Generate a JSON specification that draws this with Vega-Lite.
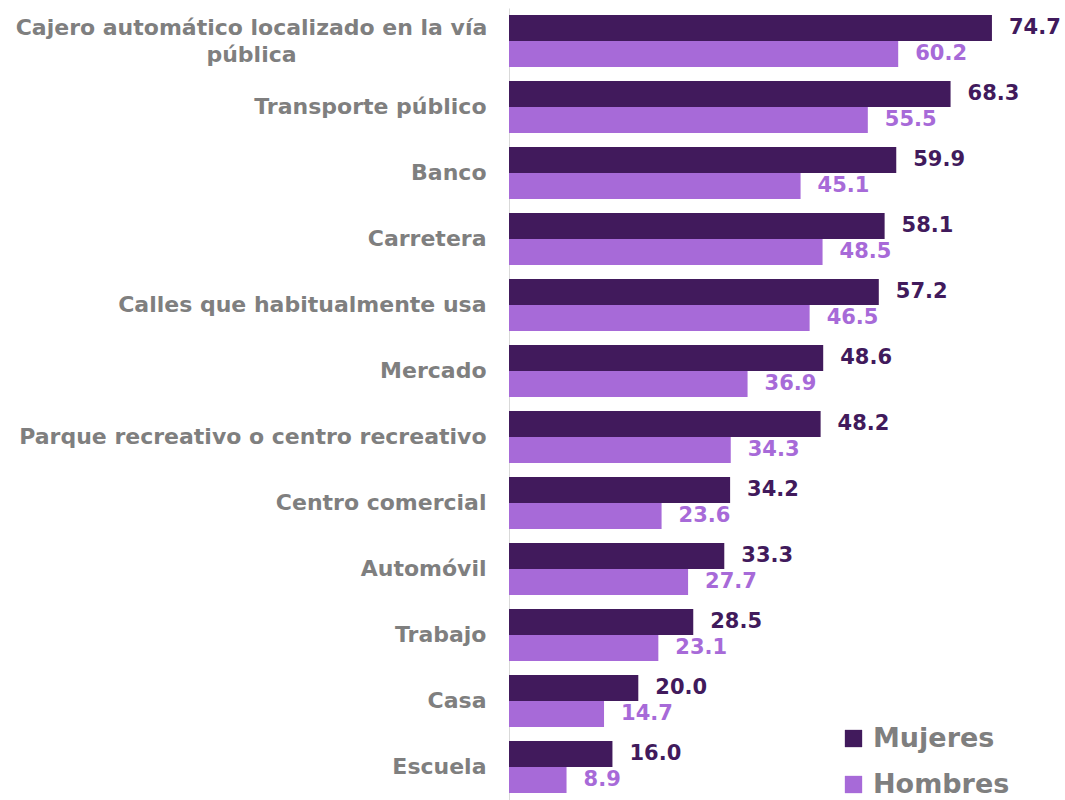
{
  "$schema": "https://vega.github.io/schema/vega-lite/v6.json",
  "width": 556,
  "height": 792,
  "autosize": {"type": "none"},
  "padding": {"left": 509, "top": 8, "right": 0, "bottom": 0},
  "background": "white",
  "config": {"view": {"stroke": null}, "font": "DejaVu Sans"},
  "data": {
    "values": [
      {"lugar": "Cajero automático localizado en la vía pública", "sexo": "Mujeres", "valor": 74.7},
      {"lugar": "Cajero automático localizado en la vía pública", "sexo": "Hombres", "valor": 60.2},
      {"lugar": "Transporte público", "sexo": "Mujeres", "valor": 68.3},
      {"lugar": "Transporte público", "sexo": "Hombres", "valor": 55.5},
      {"lugar": "Banco", "sexo": "Mujeres", "valor": 59.9},
      {"lugar": "Banco", "sexo": "Hombres", "valor": 45.1},
      {"lugar": "Carretera", "sexo": "Mujeres", "valor": 58.1},
      {"lugar": "Carretera", "sexo": "Hombres", "valor": 48.5},
      {"lugar": "Calles que habitualmente usa", "sexo": "Mujeres", "valor": 57.2},
      {"lugar": "Calles que habitualmente usa", "sexo": "Hombres", "valor": 46.5},
      {"lugar": "Mercado", "sexo": "Mujeres", "valor": 48.6},
      {"lugar": "Mercado", "sexo": "Hombres", "valor": 36.9},
      {"lugar": "Parque recreativo o centro recreativo", "sexo": "Mujeres", "valor": 48.2},
      {"lugar": "Parque recreativo o centro recreativo", "sexo": "Hombres", "valor": 34.3},
      {"lugar": "Centro comercial", "sexo": "Mujeres", "valor": 34.2},
      {"lugar": "Centro comercial", "sexo": "Hombres", "valor": 23.6},
      {"lugar": "Automóvil", "sexo": "Mujeres", "valor": 33.3},
      {"lugar": "Automóvil", "sexo": "Hombres", "valor": 27.7},
      {"lugar": "Trabajo", "sexo": "Mujeres", "valor": 28.5},
      {"lugar": "Trabajo", "sexo": "Hombres", "valor": 23.1},
      {"lugar": "Casa", "sexo": "Mujeres", "valor": 20.0},
      {"lugar": "Casa", "sexo": "Hombres", "valor": 14.7},
      {"lugar": "Escuela", "sexo": "Mujeres", "valor": 16.0},
      {"lugar": "Escuela", "sexo": "Hombres", "valor": 8.9}
    ]
  },
  "encoding": {
    "y": {
      "field": "lugar",
      "type": "nominal",
      "sort": null,
      "scale": {"paddingInner": 0.21, "paddingOuter": 0.105},
      "axis": {
        "title": null,
        "domain": true,
        "domainColor": "#d9d9d9",
        "domainWidth": 1,
        "ticks": false,
        "labelFontSize": 22,
        "labelFontWeight": "bold",
        "labelColor": "#7f7f7f",
        "labelLimit": 0,
        "labelLineHeight": 27,
        "labelExpr": "datum.value == 'Cajero automático localizado en la vía pública' ? ['Cajero automático localizado en la vía', 'pública'] : datum.value",
        "labelPadding": {"condition": {"test": "datum.value == 'Cajero automático localizado en la vía pública'", "value": 258}, "value": 23},
        "labelAlign": {"condition": {"test": "datum.value == 'Cajero automático localizado en la vía pública'", "value": "center"}, "value": "right"},
        "labelOffset": {"condition": {"test": "datum.value == 'Cajero automático localizado en la vía pública'", "value": -13}, "value": 0}
      }
    },
    "yOffset": {"field": "sexo", "sort": ["Mujeres", "Hombres"], "scale": {"paddingInner": 0, "paddingOuter": 0}},
    "x": {"field": "valor", "type": "quantitative", "scale": {"domain": [0, 86]}, "axis": null}
  },
  "layer": [
    {
      "mark": {"type": "bar"},
      "encoding": {
        "color": {
          "field": "sexo",
          "type": "nominal",
          "scale": {"domain": ["Mujeres", "Hombres"], "range": ["#411a5c", "#a76ad8"]},
          "legend": {
            "title": null,
            "orient": "none",
            "legendX": 331,
            "legendY": 717,
            "symbolType": "square",
            "symbolSize": 300,
            "symbolStrokeWidth": 0,
            "labelFontSize": 27,
            "labelFontWeight": "bold",
            "labelColor": "#7f7f7f",
            "rowPadding": 18,
            "labelOffset": 6
          }
        }
      }
    },
    {
      "mark": {"type": "text", "align": "left", "baseline": "middle", "dx": 17, "fontSize": 21, "fontWeight": "bold"},
      "encoding": {
        "text": {"field": "valor", "type": "quantitative", "format": ".1f"},
        "color": {"field": "sexo", "type": "nominal", "scale": {"domain": ["Mujeres", "Hombres"], "range": ["#411a5c", "#a76ad8"]}, "legend": null}
      }
    }
  ]
}
